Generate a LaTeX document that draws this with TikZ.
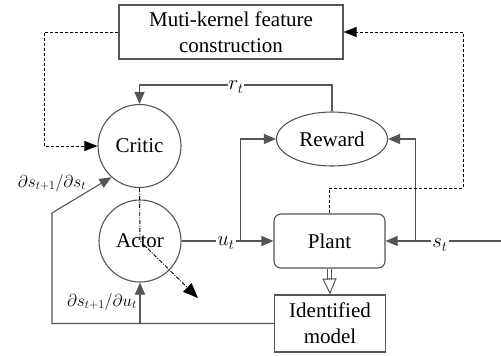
\documentclass[tikz,border=0pt]{standalone}
\usepackage{fontspec}
\setmainfont{Liberation Serif}
\usetikzlibrary{arrows.meta,shapes.geometric,calc}
\definecolor{linegray}{HTML}{555555}
\tikzset{
  blk/.style={draw=linegray, line width=1.1pt, font=\rmfamily\fontsize{21}{26}\selectfont, inner sep=0pt, align=center},
  conn/.style={draw=linegray, line width=1.1pt, -{Triangle[length=12pt,width=10pt,fill=linegray]}},
  dconn/.style={draw=black, line width=0.9pt, dash pattern=on 3pt off 2pt, -{Triangle[length=13pt,width=10pt]}},
  twin/.style={draw=linegray, line width=0.9pt},
  lbl/.style={fill=white, inner sep=1pt, font=\fontsize{20}{24}\selectfont},
  mlbl/.style={inner sep=0pt, font=\fontsize{17}{20}\selectfont}
}
\begin{document}
\begin{tikzpicture}[x=1pt,y=-1pt]
\useasboundingbox (0,0) rectangle (501,356);

% blocks
\node[blk, rectangle, minimum width=224pt, minimum height=54pt] (feat) at (231,32) {Muti-kernel feature\\construction};
\node[blk, circle, minimum size=83pt] (critic) at (139.5,146) {Critic};
\node[blk, circle, minimum size=82pt] (actor) at (140,241) {Actor};
\node[blk, ellipse, minimum width=111pt, minimum height=54pt] (reward) at (332,139) {Reward};
\node[blk, rectangle, rounded corners=7pt, minimum width=111pt, minimum height=54pt] (plant) at (329.5,241) {Plant};
\node[blk, rectangle, minimum width=111pt, minimum height=57pt] (ident) at (330,323.5) {Identified\\model};

% junction and bend points
\coordinate (ju) at (240.5,241);
\coordinate (js) at (415.5,241);
\coordinate (sin) at (501,241);
\coordinate (rtop) at (332,85);
\coordinate (fbc) at (52,323.5);
\coordinate (fbk) at (52,213);
\coordinate (dl) at (44,32);
\coordinate (dr) at (463,188);
\coordinate (dj) at ($(plant.south)+(0,11)$);
\coordinate (gradtip) at (198,298);

% reward signal back to the critic
\draw[conn] (reward.north) -- (rtop) -| (critic.north);
\node[lbl] at (236,87) {$r_t$};

% control and state signals
\draw[conn] (actor.east) -- (plant.west);
\node[lbl] at (226,243) {$u_t$};
\draw[conn] (ju) |- (reward.west);
\draw[conn] (sin) -- (plant.east);
\node[lbl] at (440,245) {$s_t$};
\draw[conn] (js) |- (reward.east);

% model derivatives
\draw[conn] (ident.west) -- (fbc) -- (fbk) -- (critic.228);
\draw[conn] (actor.south |- ident.west) -- (actor.south);
\node[mlbl] at (52,183) {$\partial s_{t+1}/\partial s_t$};
\node[mlbl] at (102,302) {$\partial s_{t+1}/\partial u_t$};

% plant identification
\draw[twin] ([xshift=-2pt]plant.south) -- ([xshift=-2pt]dj);
\draw[twin] ([xshift=2pt]plant.south) -- ([xshift=2pt]dj);
\draw[draw=linegray, line width=1pt, -{Triangle[open,length=16pt,width=14pt]}] (dj) -- (ident.north);

% kernel feature paths
\draw[dconn] (feat.west) -- (dl) |- (critic.west);
\draw[dconn] (plant.north) |- (dr) |- (feat.east);

% actor update
\draw[draw=black, line width=0.9pt, dash pattern=on 4pt off 1.5pt on 1pt off 1.5pt, -{Triangle[length=15pt,width=12pt]}] (critic.south) -- (actor.center) -- (gradtip);
\end{tikzpicture}
\end{document}
